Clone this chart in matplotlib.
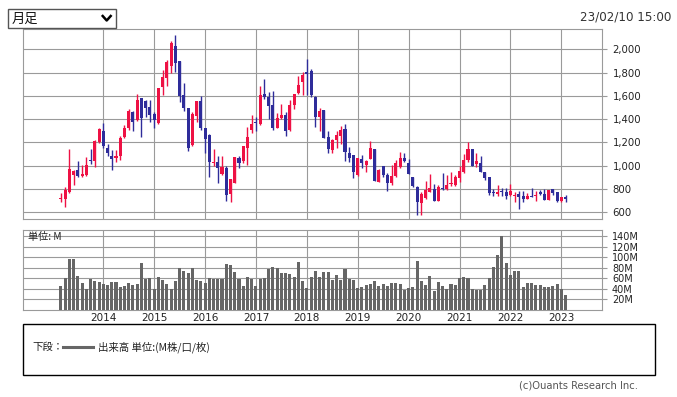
import numpy as np
import pandas as pd
import matplotlib.pyplot as plt
from matplotlib.patches import Rectangle
from matplotlib.lines import Line2D
from matplotlib.ticker import FuncFormatter

W, H = 677, 397

# monthly candles, Mar 2013 .. Feb 2023
months = pd.date_range('2013-03-01', periods=120, freq='MS')

opens = [715, 711, 775, 918, 958, 910, 921, 1047, 1041, 1205,
         1297, 1150, 1084, 1067, 1084, 1248, 1320, 1460, 1394, 1578, 1558, 1500,
         1443, 1363, 1679, 1750, 1859, 2032, 1902, 1607, 1492, 1176, 1429, 1555,
         1323, 1262, 1021, 1030, 927, 978, 757, 852, 1064, 1041, 1153, 1308,
         1377, 1357, 1613, 1587, 1521, 1326, 1406, 1435, 1308, 1521, 1621, 1722,
         1802, 1816, 1592, 1420, 1478, 1248, 1136, 1222, 1257, 1314, 1105, 1090,
         921, 1056, 1004, 1056, 1142, 858, 998, 918, 849, 912, 990, 1064,
         1018, 901, 812, 676, 725, 776, 800, 696, 806, 797, 838, 832,
         892, 941, 1050, 1142, 1013, 1018, 941, 901, 772, 757, 780, 769,
         746, 737, 754, 740, 711, 740, 734, 772, 754, 705, 797, 769,
         697, 730]
highs = [763, 815, 1140, 964, 1036, 1004, 1073, 1142, 1222, 1326,
         1366, 1185, 1133, 1136, 1257, 1346, 1486, 1466, 1615, 1578, 1567, 1564,
         1458, 1670, 1819, 1911, 2072, 2123, 1902, 1710, 1492, 1460, 1555, 1601,
         1323, 1271, 1142, 1084, 1084, 998, 884, 1076, 1084, 1171, 1334, 1435,
         1415, 1681, 1745, 1630, 1641, 1452, 1529, 1458, 1567, 1615, 1773, 1802,
         1917, 1831, 1601, 1495, 1478, 1300, 1228, 1300, 1343, 1357, 1156, 1090,
         1064, 1090, 1047, 1208, 1142, 970, 998, 935, 1004, 1050, 1113, 1107,
         1056, 901, 826, 776, 866, 930, 839, 832, 937, 918, 941, 918,
         998, 1099, 1199, 1142, 1107, 1084, 941, 901, 797, 832, 803, 803,
         840, 769, 783, 777, 763, 803, 777, 786, 797, 786, 797, 769,
         729, 745]
lows = [683, 645, 760, 835, 904, 905, 906, 1013, 984, 1194,
        1150, 1079, 964, 1027, 1050, 1239, 1308, 1300, 1386, 1248, 1420, 1377,
        1320, 1357, 1610, 1687, 1799, 1802, 1549, 1472, 1128, 1170, 1377, 1308,
        1105, 904, 998, 849, 921, 697, 688, 846, 981, 1021, 1004, 1280,
        1300, 1349, 1572, 1400, 1308, 1320, 1400, 1257, 1300, 1486, 1615, 1610,
        1607, 1587, 1334, 1300, 1237, 1107, 1107, 1148, 1185, 1041, 1027, 889,
        912, 981, 947, 1056, 866, 855, 904, 780, 832, 904, 981, 1027,
        924, 815, 576, 576, 711, 769, 694, 694, 793, 789, 826, 826,
        861, 935, 1033, 998, 984, 941, 878, 749, 740, 740, 740, 711,
        740, 688, 625, 683, 711, 726, 697, 746, 705, 700, 749, 683,
        683, 683]
closes = [720, 786, 970, 952, 912, 925, 1004, 1036, 1211, 1314,
          1171, 1107, 1056, 1084, 1237, 1323, 1466, 1377, 1564, 1412, 1492, 1435,
          1394, 1664, 1762, 1891, 2055, 1882, 1601, 1492, 1150, 1443, 1555, 1320,
          1228, 1033, 1033, 981, 990, 749, 884, 1076, 1024, 1171, 1248, 1357,
          1369, 1604, 1590, 1515, 1320, 1406, 1435, 1300, 1521, 1615, 1693, 1779,
          1790, 1607, 1420, 1472, 1237, 1142, 1222, 1262, 1305, 1119, 1067, 947,
          1061, 1021, 1036, 1148, 866, 961, 921, 849, 912, 1018, 1061, 1039,
          930, 823, 688, 755, 789, 803, 696, 814, 795, 832, 849, 898,
          952, 1047, 1142, 998, 1039, 941, 892, 766, 763, 774, 769, 740,
          780, 749, 731, 711, 734, 726, 749, 757, 705, 786, 760, 697,
          729, 716]
# volume, millions
volume = [44.4, 59.7, 95.9, 95.9, 63.5, 50.2, 39.4, 57.8, 54.6, 52.1,
          49.5, 47.0, 52.1, 52.1, 42.5, 45.7, 50.2, 47.0, 48.3, 88.3, 58.4, 59.7,
          40.0, 61.6, 55.9, 48.9, 39.4, 55.2, 78.7, 73.0, 69.2, 80.0, 55.9, 55.2,
          50.2, 61.0, 57.8, 57.8, 59.0, 87.0, 84.4, 71.7, 57.8, 44.4, 62.9, 59.0,
          44.4, 57.8, 59.7, 76.8, 81.9, 80.0, 69.2, 69.2, 67.3, 61.6, 90.2, 54.0,
          40.6, 61.6, 73.0, 61.6, 71.1, 71.1, 55.9, 65.4, 55.9, 76.8, 59.0, 55.9,
          40.6, 42.5, 46.3, 48.3, 54.0, 44.4, 48.3, 44.4, 50.2, 50.2, 48.3, 36.8,
          40.6, 42.5, 92.0, 54.0, 46.3, 63.5, 34.9, 52.1, 44.4, 38.7, 48.3, 46.3,
          59.7, 61.6, 59.7, 38.7, 36.8, 36.8, 46.3, 59.7, 80.6, 103.5, 140.3, 88.3,
          65.4, 73.0, 73.0, 42.5, 50.2, 50.2, 46.3, 46.3, 42.5, 42.5, 44.4, 48.3,
          38.7, 27.3]

price_ticks = [600, 800, 1000, 1200, 1400, 1600, 1800, 2000]
vol_ticks = [20, 40, 60, 80, 100, 120, 140]
years = [2014, 2015, 2016, 2017, 2018, 2019, 2020, 2021, 2022, 2023]

UP = '#ee1144'
DOWN = '#2e2c9a'
GRID = '#9a9a9a'
JP = ['Noto Sans CJK JP', 'DejaVu Sans']


def box(l, t, r, b):
    # pixel box -> figure fraction
    return [l / W, 1 - b / H, (r - l) / W, (b - t) / H]


fig = plt.figure(figsize=(W / 100, H / 100), dpi=100)
ax = fig.add_axes(box(23, 29, 602, 219))
axv = fig.add_axes(box(23, 230, 602, 309.5))

x = np.arange(len(months))
o = np.array(opens, float)
c = np.array(closes, float)
up = c >= o
cols = np.where(up, UP, DOWN)
year_pos = [int(np.where((months.year == y) & (months.month == 1))[0][0]) for y in years]

# candles
ax.vlines(x, lows, highs, colors=cols, lw=1.0, zorder=3)
body = np.maximum(np.abs(c - o), 6)
ax.bar(x, body, bottom=np.minimum(o, c), width=0.72, color=cols, lw=0, zorder=4)

for a in (ax, axv):
    a.set_xlim(-8.93, 127.6)
    a.set_xticks(year_pos)
    a.set_axisbelow(True)
    a.grid(True, color=GRID, lw=0.8)
    for s in a.spines.values():
        s.set_color(GRID)
        s.set_linewidth(0.8)
    a.tick_params(axis='y', left=False, labelleft=False, right=True, labelright=True,
                  length=3.6, width=0.8, color=GRID, labelcolor='#222222')

ax.set_ylim(540, 2175)
ax.set_yticks(price_ticks)
ax.yaxis.set_major_formatter(FuncFormatter(lambda v, p: f'{int(v):,}'))
ax.tick_params(axis='y', labelsize=7.3, pad=4)
ax.tick_params(axis='x', length=0, labelbottom=False)

# volume
axv.bar(x, volume, width=0.72, color='#666666', lw=0, zorder=3)
axv.set_ylim(0, 152)
axv.set_yticks(vol_ticks)
axv.yaxis.set_major_formatter(FuncFormatter(lambda v, p: f'{int(v)}M'))
axv.tick_params(axis='y', labelsize=7, pad=3.6)
axv.tick_params(axis='x', length=0, pad=2.5, labelsize=7.5, labelcolor='#222222')
axv.set_xticklabels([str(y) for y in years])
axv.text(0.009, 0.97, '単位: M', transform=axv.transAxes, ha='left', va='top',
         fontsize=7.3, family=JP, color='#222222', zorder=5)

# period selector
fig.patches.append(Rectangle((8 / W, 1 - 28.3 / H), 108 / W, 19 / H, transform=fig.transFigure,
                             facecolor='white', edgecolor='#555555', lw=1))
fig.text(12 / W, 1 - 19 / H, '月足', family=JP, fontsize=9.5, va='center', ha='left', color='#111111')
fig.lines.append(Line2D([102.7 / W, 106.7 / W, 110.7 / W],
                        [1 - 16 / H, 1 - 20.5 / H, 1 - 16 / H],
                        transform=fig.transFigure, color='black', lw=1.8))
fig.text(671 / W, 1 - 17 / H, '23/02/10 15:00', ha='right', va='center',
         fontsize=8.6, color='#333333')

# legend box
fig.patches.append(Rectangle((23 / W, 1 - 375 / H), 632 / W, 51 / H, transform=fig.transFigure,
                             facecolor='none', edgecolor='black', lw=1))
fig.text(32.7 / W, 1 - 347 / H, '下段：', family=JP, fontsize=7.5, va='center', ha='left', color='#222222')
fig.lines.append(Line2D([62.7 / W, 92.7 / W], [1 - 347 / H] * 2, transform=fig.transFigure,
                        color='#666666', lw=2.2))
fig.text(98 / W, 1 - 347 / H, '出来高 単位:(M株/口/枚)', family=JP, fontsize=7.5,
         va='center', ha='left', color='#222222')

fig.text(638 / W, 1 - 386 / H, '(c)Ouants Research Inc.', fontsize=7.2,
         ha='right', va='center', color='#555555')

fig.savefig('out.png', dpi=100)
